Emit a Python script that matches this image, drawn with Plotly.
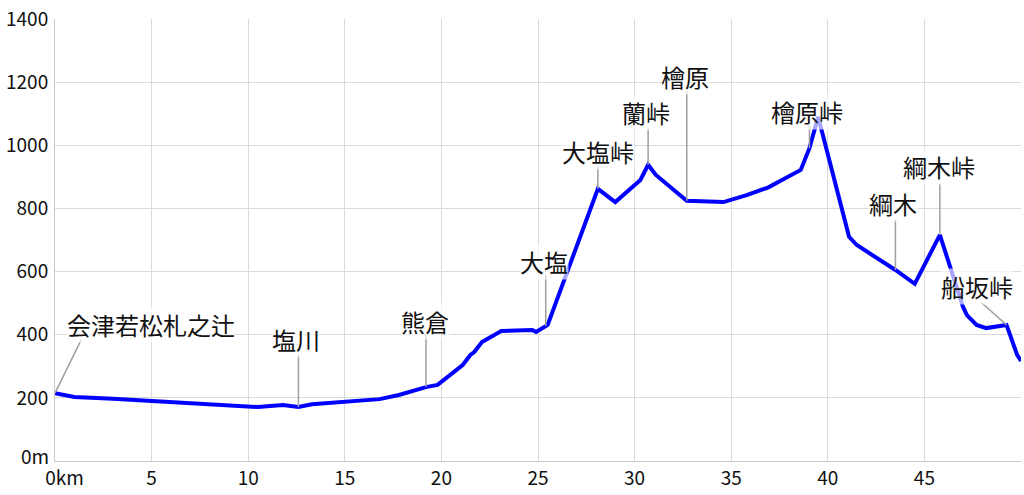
import numpy as np
import plotly.graph_objects as go

# Elevation profile (distance in km, elevation in m)
dist_km = [0, 1.0, 3.0, 5.0, 7.9, 10.0, 10.5, 11.8, 12.6, 13.3, 15.0, 16.8, 17.8,
           19.2, 19.8, 21.1, 21.5, 21.7, 22.1, 23.1, 24.7, 24.9, 25.5, 28.1, 29.0,
           30.3, 30.7, 31.1, 32.7, 34.6, 35.8, 36.9, 38.6, 39.05, 39.5, 41.1, 41.5,
           43.5, 44.5, 45.8, 47.0, 47.2, 47.7, 48.2, 49.25, 49.8, 50.0]
elev_m = [215, 203, 197, 190, 180, 174, 171, 177, 171, 180, 187, 196, 209,
          234, 241, 304, 336, 345, 377, 412, 415, 409, 431, 862, 820,
          890, 938, 906, 824, 820, 842, 866, 922, 991, 1090, 710, 684,
          605, 561, 716, 488, 462, 431, 421, 431, 336, 317]

# Named places
place_names = ["会津若松札之辻", "塩川", "熊倉", "大塩", "大塩峠", "蘭峠", "檜原",
               "檜原峠", "綱木", "綱木峠", "船坂峠"]
place_km = [0, 12.6, 19.2, 25.4, 28.1, 30.7, 32.7, 39.05, 43.5, 45.8, 49.25]

# Axis ticks
x_tickvals = [0, 5, 10, 15, 20, 25, 30, 35, 40, 45, 50]
x_ticktext = ["\u2002\u20020km", "5", "10", "15", "20", "25", "30", "35", "40", "45", ""]
y_tickvals = [0, 200, 400, 600, 800, 1000, 1200, 1400]
y_ticktext = ["", "200", "400", "600", "800", "1000", "1200", "1400"]
y_zero_label = "0m"

# label layout: (leader end dx, dy), (label centre dx, dy) in pixels relative to the point
leader_off = [(27, -55), (0, -54), (0, -54), (0, -53), (0, -24), (0, -38), (0, -111),
              (0, -25), (0, -52), (0, -53), (-27, -24)]
label_off = [(96, -69), (-2, -68), (-1, -66), (-2, -65), (0, -37), (-2, -52), (-2, -124),
             (-2, -37), (-2, -66), (-1, -68), (-30, -38)]

place_m = np.interp(place_km, dist_km, elev_m)

fig = go.Figure()
fig.add_trace(go.Scatter(x=dist_km, y=elev_m, mode="lines",
                         line=dict(color="#0000ff", width=4),
                         hoverinfo="skip", showlegend=False))

annotations = []
for name, xk, ym, lo, to in zip(place_names, place_km, place_m, leader_off, label_off):
    # leader line
    annotations.append(dict(x=xk, y=ym, xref="x", yref="y", text="", showarrow=True,
                            ax=lo[0], ay=lo[1], axref="pixel", ayref="pixel",
                            arrowhead=0, arrowwidth=1.5, arrowcolor="#a0a0a0",
                            standoff=0, startstandoff=0))
    # label
    annotations.append(dict(x=xk, y=ym, xref="x", yref="y", text=name, showarrow=False,
                            xshift=to[0], yshift=-to[1],
                            xanchor="center", yanchor="middle",
                            font=dict(family="Noto Sans CJK JP", size=24, color="#111111"),
                            bgcolor="rgba(255,255,255,0.65)", borderpad=0))

# zero label of the elevation axis, sitting slightly above the baseline
annotations.append(dict(x=0, y=y_tickvals[0], xref="paper", yref="y", text=y_zero_label,
                        showarrow=False, xanchor="right", yanchor="middle",
                        xshift=-4, yshift=6,
                        font=dict(family="Noto Sans CJK JP", size=19, color="#111111")))

fig.update_layout(
    width=1024, height=495,
    margin=dict(l=55, r=3, t=19, b=34),
    paper_bgcolor="white", plot_bgcolor="white",
    showlegend=False,
    annotations=annotations,
    font=dict(family="Noto Sans CJK JP", size=19, color="#111111"),
)
fig.update_xaxes(range=[0, 50], tickvals=x_tickvals, ticktext=x_ticktext,
                 showgrid=True, gridcolor="#dadada", gridwidth=1,
                 showline=True, linecolor="#c8c8c8", linewidth=1,
                 zeroline=False, ticks="", fixedrange=True, automargin=False,
                 ticklabelstandoff=0)
fig.update_yaxes(range=[0, 1400], tickvals=y_tickvals, ticktext=y_ticktext,
                 showgrid=True, gridcolor="#dadada", gridwidth=1,
                 showline=True, linecolor="#c8c8c8", linewidth=1,
                 zeroline=False, ticks="", fixedrange=True, automargin=False,
                 ticklabelstandoff=2)

fig.write_html("out.html", include_plotlyjs=True, config={"displayModeBar": False},
               post_script="document.body.style.margin='0';document.body.style.overflow='hidden';")
